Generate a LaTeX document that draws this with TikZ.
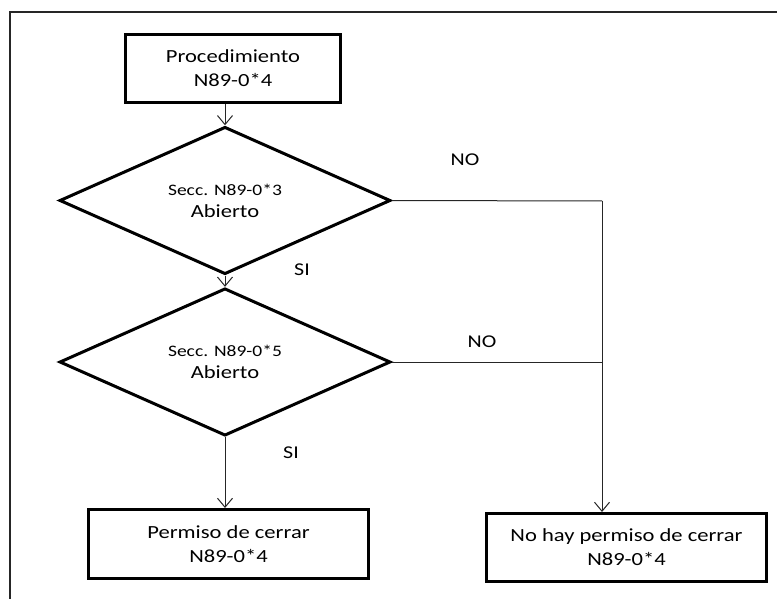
\documentclass[tikz,border=0pt]{standalone}
\usepackage{fontspec}
\setmainfont{Carlito}[FakeStretch=1.22]
\usetikzlibrary{shapes.geometric,arrows.meta}
\begin{document}
\begin{tikzpicture}[x=1pt,y=-1pt,
  box/.style={draw=black,line width=3pt,rectangle,inner sep=0pt,align=center,
    font=\fontsize{18.5}{24}\selectfont},
  decision/.style={draw=black,line width=3pt,diamond,inner sep=0pt,align=center,
    font=\fontsize{18.5}{22}\selectfont},
  conn/.style={draw=black!85,line width=1pt},
  arr/.style={conn,-{Straight Barb[length=9pt,width=15pt,line width=1pt]}},
  lbl/.style={inner sep=0pt,font=\fontsize{18}{20}\selectfont}]
\useasboundingbox (0,0) rectangle (777,599);
\draw[line width=1.6pt,black!85] (10,640) -- (10,12) -- (800,12);
\node[box,minimum width=215,minimum height=68] (top) at (233,68.5) {Procedimiento\\N89-0*4};
\node[decision,minimum width=331,minimum height=122] (d1) at (225,200.5)
  {{\fontsize{16}{20}\selectfont Secc. N89-0*3}\\Abierto};
\node[decision,minimum width=331,minimum height=122] (d2) at (225,362)
  {{\fontsize{16}{20}\selectfont Secc. N89-0*5}\\Abierto};
\node[box,minimum width=280,minimum height=69] (yes) at (228.5,544) {Permiso de cerrar\\N89-0*4};
\node[box,minimum width=280,minimum height=68] (no) at (626.5,547.5) {No hay permiso de cerrar\\N89-0*4};
\coordinate (j1) at (602,201);
\coordinate (j2) at (602,362);
\draw[arr] (d1.north |- top.south) -- (d1.north);
\draw[arr] (d1.south) -- (d2.north);
\draw[arr] (d2.south) -- (d2.south |- yes.north);
\draw[conn] (d1.east) -- (j1);
\draw[arr] (j1) -- (j1 |- no.north);
\draw[conn] (d2.east) -- (j2);
\node[lbl] (no1) at (465,160) {NO};
\node[lbl] (no2) at (482,342) {NO};
\node[lbl] (si1) at (302,270) {SI};
\node[lbl] (si2) at (291,453) {SI};
\end{tikzpicture}
\end{document}
